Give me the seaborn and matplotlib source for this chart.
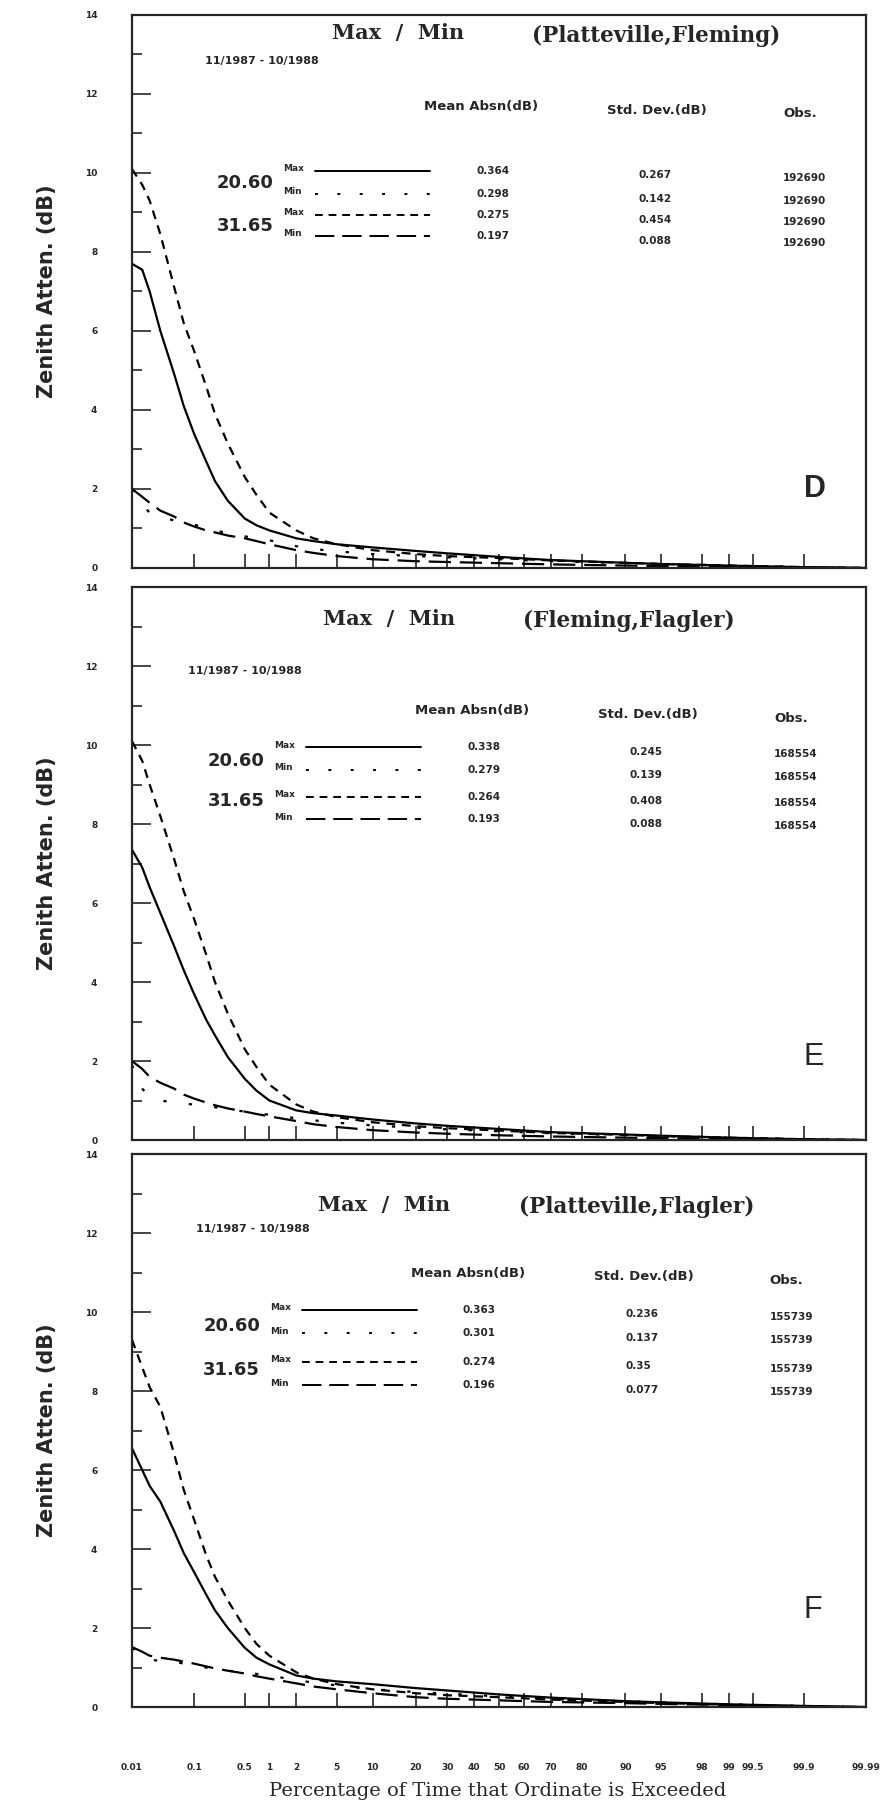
import math
import numpy as np
import pandas as pd
import matplotlib
matplotlib.use('Agg')
import matplotlib.pyplot as plt
import seaborn as sns

# Percentage of time exceeded (x) shared by every curve
pct = [0.01, 0.015, 0.02, 0.03, 0.05, 0.07, 0.1, 0.15, 0.2, 0.3, 0.5, 0.7, 1, 2, 3, 5,
       10, 20, 30, 50, 70, 90, 95, 99, 99.9, 99.99]

# Panel D  (Platteville, Fleming)
d_max20 = [7.7, 7.55, 7.0, 6.0, 4.9, 4.1, 3.4, 2.7, 2.2, 1.7, 1.25, 1.08, 0.95, 0.75, 0.68, 0.6,
           0.52, 0.43, 0.37, 0.28, 0.2, 0.13, 0.1, 0.06, 0.02, 0.0]
d_min20 = [2.0, 1.6, 1.4, 1.3, 1.2, 1.15, 1.1, 1.0, 0.95, 0.88, 0.8, 0.75, 0.7, 0.55, 0.48, 0.42,
           0.35, 0.3, 0.27, 0.22, 0.17, 0.12, 0.1, 0.06, 0.02, 0.0]
d_max31 = [10.1, 9.7, 9.3, 8.45, 7.1, 6.2, 5.5, 4.6, 3.9, 3.15, 2.3, 1.85, 1.4, 0.95, 0.75, 0.6,
           0.45, 0.35, 0.3, 0.25, 0.19, 0.13, 0.1, 0.06, 0.02, 0.0]
d_min31 = [2.0, 1.8, 1.65, 1.45, 1.3, 1.15, 1.05, 0.95, 0.9, 0.82, 0.75, 0.68, 0.6, 0.45, 0.38, 0.3,
           0.22, 0.17, 0.15, 0.12, 0.09, 0.06, 0.05, 0.03, 0.01, 0.0]

# Panel E  (Fleming, Flagler)
e_max20 = [7.35, 6.9, 6.4, 5.75, 4.9, 4.3, 3.7, 3.05, 2.65, 2.1, 1.55, 1.25, 1.0, 0.75, 0.68, 0.62,
           0.52, 0.42, 0.36, 0.28, 0.2, 0.14, 0.11, 0.06, 0.02, 0.0]
e_min20 = [1.9, 1.3, 1.1, 1.0, 0.95, 0.92, 0.9, 0.86, 0.83, 0.78, 0.72, 0.68, 0.64, 0.55, 0.5, 0.44,
           0.37, 0.31, 0.27, 0.22, 0.17, 0.12, 0.1, 0.06, 0.02, 0.0]
e_max31 = [10.1, 9.6, 9.0, 8.2, 7.1, 6.3, 5.6, 4.7, 4.0, 3.2, 2.3, 1.85, 1.4, 0.9, 0.72, 0.58,
           0.45, 0.35, 0.3, 0.24, 0.18, 0.13, 0.1, 0.06, 0.02, 0.0]
e_min31 = [2.0, 1.8, 1.6, 1.45, 1.3, 1.15, 1.05, 0.95, 0.88, 0.8, 0.72, 0.66, 0.6, 0.48, 0.4, 0.33,
           0.25, 0.19, 0.16, 0.12, 0.09, 0.06, 0.05, 0.03, 0.01, 0.0]

# Panel F  (Platteville, Flagler)
f_max20 = [6.55, 6.0, 5.6, 5.2, 4.45, 3.9, 3.42, 2.85, 2.45, 2.0, 1.5, 1.25, 1.08, 0.8, 0.72, 0.65,
           0.58, 0.48, 0.42, 0.32, 0.24, 0.15, 0.12, 0.07, 0.03, 0.0]
f_min20 = [1.5, 1.3, 1.2, 1.17, 1.15, 1.1, 1.05, 1.0, 0.96, 0.92, 0.88, 0.84, 0.8, 0.68, 0.62, 0.55,
           0.45, 0.38, 0.34, 0.27, 0.2, 0.15, 0.12, 0.07, 0.03, 0.0]
f_max31 = [9.3, 8.6, 8.1, 7.6, 6.4, 5.5, 4.75, 3.85, 3.3, 2.7, 2.0, 1.6, 1.3, 0.88, 0.72, 0.58,
           0.45, 0.35, 0.3, 0.25, 0.19, 0.13, 0.1, 0.06, 0.02, 0.0]
f_min31 = [1.52, 1.4, 1.3, 1.25, 1.2, 1.15, 1.1, 1.03, 0.98, 0.92, 0.85, 0.78, 0.72, 0.6, 0.52, 0.45,
           0.35, 0.25, 0.21, 0.17, 0.13, 0.1, 0.08, 0.05, 0.02, 0.0]

# Legend table values
stations = ['(Platteville,Fleming)', '(Fleming,Flagler)', '(Platteville,Flagler)']
panel_letters = ['D', 'E', 'F']
mean_absn = [['0.364', '0.298', '0.275', '0.197'],
             ['0.338', '0.279', '0.264', '0.193'],
             ['0.363', '0.301', '0.274', '0.196']]
std_dev = [['0.267', '0.142', '0.454', '0.088'],
           ['0.245', '0.139', '0.408', '0.088'],
           ['0.236', '0.137', '0.35', '0.077']]
obs = [['192690'] * 4, ['168554'] * 4, ['155739'] * 4]

xtick_vals = [0.01, 0.1, 0.5, 1, 2, 5, 10, 20, 30, 40, 50, 60, 70, 80, 90, 95, 98, 99, 99.5, 99.9, 99.99]
xtick_labels = ['0.01', '0.1', '0.5', '1', '2', '5', '10', '20', '30', '40', '50', '60', '70', '80',
                '90', '95', '98', '99', '99.5', '99.9', '99.99']

series_names = ['Max 20.60', 'Min 20.60', 'Max 31.65', 'Min 31.65']
panel_series = [[d_max20, d_min20, d_max31, d_min31],
                [e_max20, e_min20, e_max31, e_min31],
                [f_max20, f_min20, f_max31, f_min31]]
dash_styles = {'Max 20.60': '', 'Min 20.60': (1.5, 10), 'Max 31.65': (4, 3), 'Min 31.65': (10, 4)}

# normal probability scale (percent -> standard normal deviate)
z_tab = np.linspace(-5, 5, 8001)
p_tab = np.array([50.0 * (1 + math.erf(z / math.sqrt(2))) for z in z_tab])


def to_z(p):
    return np.interp(p, p_tab, z_tab)


def from_z(z):
    return np.interp(z, z_tab, p_tab)


sns.set_style('ticks')
plt.rcParams['font.family'] = ['DejaVu Sans']
plt.rcParams['axes.linewidth'] = 1.6

# per-panel text layout (axes fractions)
layout = [
    dict(title=0.967, date=(0.099, 0.916), head=0.835, rows=[0.718, 0.676, 0.638, 0.600],
         freq=[0.697, 0.619], x0=0.0, letter=0.142),
    dict(title=0.942, date=(0.076, 0.849), head=0.776, rows=[0.710, 0.669, 0.621, 0.580],
         freq=[0.685, 0.613], x0=-0.012, letter=0.151),
    dict(title=0.908, date=(0.087, 0.864), head=0.785, rows=[0.718, 0.676, 0.624, 0.582],
         freq=[0.690, 0.610], x0=-0.018, letter=0.175),
]

fig = plt.figure(figsize=(8.8, 18.07), dpi=100)
bottoms = [0.6857, 0.3691, 0.0553]
left, width, height = 0.150, 0.834, 0.306

for i in range(3):
    ax = fig.add_axes([left, bottoms[i], width, height])
    df = pd.DataFrame({
        'pct': pct * 4,
        'atten': sum(panel_series[i], []),
        'series': np.repeat(series_names, len(pct)),
    })
    sns.lineplot(data=df, x='pct', y='atten', style='series', dashes=dash_styles,
                 color='black', linewidth=1.6, estimator=None, sort=False,
                 legend=False, ax=ax)
    ax.set_xscale('function', functions=(to_z, from_z))
    ax.set_xlim(0.01, 99.99)
    ax.set_ylim(0, 14)
    ax.set_xlabel('')
    ax.set_ylabel('Zenith Atten. (dB)', fontsize=15, fontweight='bold', labelpad=20)

    ax.set_xticks(xtick_vals)
    if i == 2:
        ax.set_xticklabels(xtick_labels, fontsize=6.5, fontweight='bold')
    else:
        ax.set_xticklabels([])
    ax.set_xticks([], minor=True)
    ax.tick_params(axis='x', direction='in', length=10, width=1.2, pad=40)

    ax.set_yticks(range(0, 15, 2))
    ax.set_yticklabels([str(v) for v in range(0, 15, 2)], fontsize=6.5, fontweight='bold')
    ax.set_yticks(range(1, 14, 2), minor=True)
    ax.tick_params(axis='y', which='major', direction='in', length=14, width=1.2, pad=25)
    ax.tick_params(axis='y', which='minor', direction='in', length=7, width=1.2)
    for s in ax.spines.values():
        s.set_linewidth(1.6)

    L = layout[i]
    x0 = L['x0']
    ax.text(0.272 + x0, L['title'], 'Max  /  Min', transform=ax.transAxes,
            fontsize=15, family='DejaVu Serif', fontweight='bold', va='center')
    ax.text(0.545 + x0, L['title'] - 0.004, stations[i], transform=ax.transAxes,
            fontsize=15.5, family='DejaVu Serif', fontweight='bold', va='center')
    ax.text(L['date'][0], L['date'][1], '11/1987 - 10/1988', transform=ax.transAxes,
            fontsize=8, fontweight='bold', va='center')
    ax.text(0.398 + x0, L['head'], 'Mean Absn(dB)', transform=ax.transAxes,
            fontsize=9.5, fontweight='bold', va='center')
    ax.text(0.647 + x0, L['head'] - 0.007, 'Std. Dev.(dB)', transform=ax.transAxes,
            fontsize=9.5, fontweight='bold', va='center')
    ax.text(0.887 + x0, L['head'] - 0.013, 'Obs.', transform=ax.transAxes,
            fontsize=9.5, fontweight='bold', va='center')
    ax.text(0.115 + x0, L['freq'][0], '20.60', transform=ax.transAxes,
            fontsize=13, fontweight='bold', va='center')
    ax.text(0.115 + x0, L['freq'][1], '31.65', transform=ax.transAxes,
            fontsize=13, fontweight='bold', va='center')
    for k, name in enumerate(series_names):
        y = L['rows'][k]
        ax.text(0.206 + x0, y + 0.004, name.split()[0], transform=ax.transAxes,
                fontsize=6.5, fontweight='bold', va='center')
        ax.plot([0.249 + x0, 0.406 + x0], [y, y], transform=ax.transAxes, color='black',
                linewidth=1.4, dashes=dash_styles[name] if dash_styles[name] else (None, None))
        ax.text(0.469 + x0, y, mean_absn[i][k], transform=ax.transAxes,
                fontsize=7.5, fontweight='bold', va='center')
        ax.text(0.690 + x0, y - 0.008, std_dev[i][k], transform=ax.transAxes,
                fontsize=7.5, fontweight='bold', va='center')
        ax.text(0.887 + x0, y - 0.012, obs[i][k], transform=ax.transAxes,
                fontsize=7.5, fontweight='bold', va='center')
    ax.text(0.915, L['letter'], panel_letters[i], transform=ax.transAxes,
            fontsize=22, family='Liberation Sans', fontweight='bold' if i == 0 else 'normal',
            va='center')

fig.text(0.565, 0.006, 'Percentage of Time that Ordinate is Exceeded',
         ha='center', fontsize=14, family='DejaVu Serif')

fig.savefig('out.png', dpi=100)
